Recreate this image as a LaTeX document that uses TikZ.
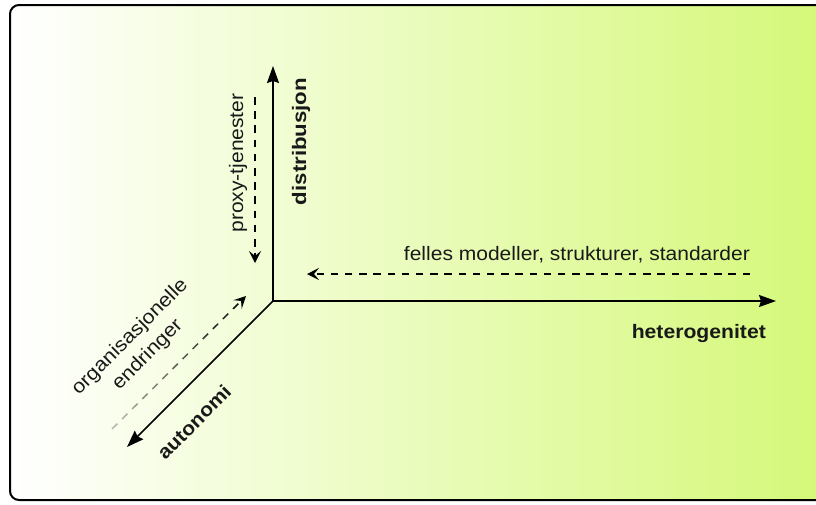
\documentclass[tikz,border=0pt]{standalone}
\usepackage{fontspec}
\usepackage{graphicx}
\setmainfont{Liberation Sans}
\usetikzlibrary{arrows.meta,fadings}

% lower-left end of the diagonal dashed arrow fades out
\tikzfading[name=diagfade, left color=transparent!75, middle color=transparent!0, right color=transparent!0]

\tikzset{
  axis/.style={line width=1.6pt, -{Stealth[length=17pt,width=12pt,inset=2pt]}},
  hint/.style={line width=1.5pt, dash pattern=on 7.5pt off 6.7pt,
               -{Stealth[length=12pt,width=12pt,inset=5pt]}},
  lab/.style={inner sep=0pt, text=black!90, font=\fontsize{19.5}{25}\selectfont},
  blab/.style={lab, font=\fontsize{19.5}{25}\selectfont\bfseries},
}

\begin{document}
\begin{tikzpicture}[x=1pt,y=-1pt]
  \useasboundingbox (0,0) rectangle (816,504);

  % panel with white-to-green gradient
  \begin{scope}
    \clip (0,0) rectangle (816,504);
    \draw[line width=2pt, rounded corners=9pt, left color=white, right color={rgb,255:red,212;green,248;blue,118}]
      (10,5) rectangle (840,500);
  \end{scope}

  % axes
  \coordinate (O) at (273,301);
  \coordinate (Ytip) at (273,66);
  \coordinate (Xtip) at (776,301);
  \coordinate (Ztip) at (127,447);
  \draw[axis] (O) -- (Ytip);
  \draw[axis] (O) -- (Xtip);
  \draw[axis] (O) -- (Ztip);

  % dashed counter-arrows
  \coordinate (Pa) at (255,97);
  \coordinate (Pb) at (255,263);
  \coordinate (Fa) at (750,274);
  \coordinate (Fb) at (307,274);
  \coordinate (Ea) at (112,429);
  \coordinate (Eb) at (246,296);
  \draw[hint] (Pa) -- (Pb);
  \draw[hint] (Fa) -- (Fb);
  \draw[hint, path fading=diagfade] (Ea) -- (Eb);

  % labels
  \node[blab, rotate=90, anchor=base] (dist) at (306,141.5)
    {\scalebox{1.14}[1]{distribusjon}};
  \node[lab, rotate=90, anchor=base] (proxy) at (243,163)
    {\scalebox{1.078}[1]{proxy-tjenester}};
  \node[lab, anchor=base east] (felles) at (750,260)
    {\scalebox{1.078}[1]{felles modeller, strukturer, standarder}};
  \node[blab, anchor=base east] (het) at (766,338)
    {\scalebox{1.085}[1]{heterogenitet}};
  \node[lab, rotate=45, align=center] (org) at (139,346)
    {\scalebox{1.1}[1]{organisasjonelle}\\\scalebox{1.1}[1]{endringer}};
  \node[blab, rotate=45] (aut) at (194,422)
    {\scalebox{1.08}[1]{autonomi}};
\end{tikzpicture}
\end{document}
